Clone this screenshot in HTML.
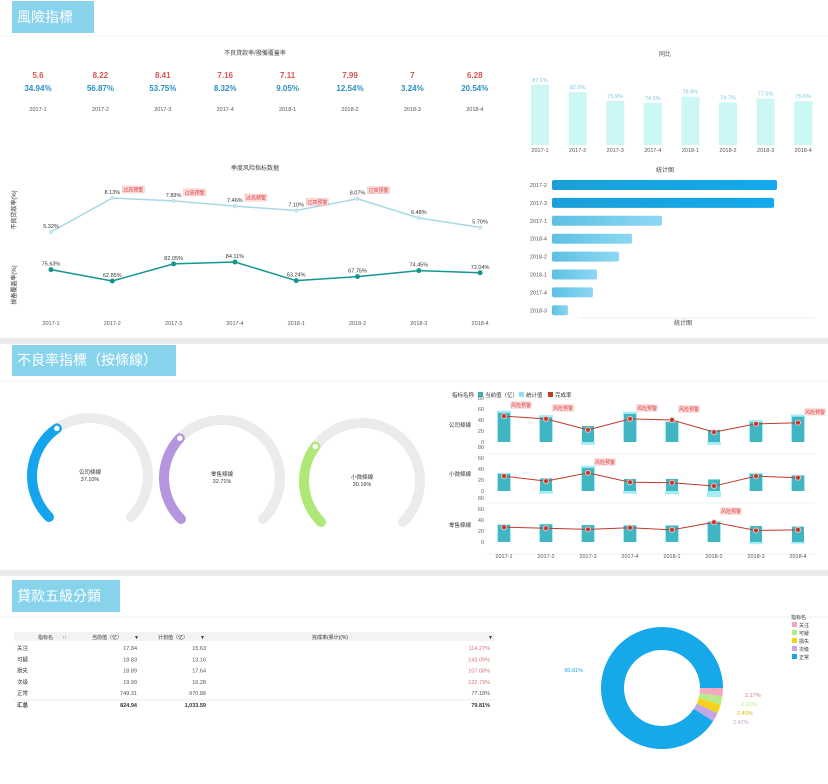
<!DOCTYPE html>
<html><head><meta charset="utf-8">
<style>
html,body{margin:0;padding:0;background:#fff;}
svg{display:block;font-family:"Liberation Sans","Noto Sans CJK TC",sans-serif;}
</style></head>
<body>
<svg id="s" width="828" height="784" viewBox="0 0 828 784" xmlns="http://www.w3.org/2000/svg">
<defs>
<linearGradient id="hb" x1="0" x2="1"><stop offset="0" stop-color="#1b9fd8"/><stop offset="1" stop-color="#13a9ec"/></linearGradient>
<linearGradient id="hb2" x1="0" x2="1"><stop offset="0" stop-color="#5cc0e4"/><stop offset="1" stop-color="#8dd8f2"/></linearGradient>
</defs>
<rect x="0" y="0" width="828" height="784" fill="#fff"/>
<rect x="0" y="338" width="828" height="6" fill="#ebeced"/>
<rect x="0" y="570" width="828" height="6" fill="#ebeced"/>
<line x1="0" y1="36" x2="828" y2="36" stroke="#f2f2f2"/>
<line x1="0" y1="381" x2="828" y2="381" stroke="#f2f2f2"/>
<line x1="0" y1="617" x2="828" y2="617" stroke="#f2f2f2"/>

<g>
<rect x="12" y="1" width="82" height="32" fill="#87d3ec"/>
<text x="17" y="22" font-size="14" fill="#fff">風險指標</text></g>
<g>
<rect x="12" y="345" width="164" height="31" fill="#87d3ec"/>
<text x="17" y="365" font-size="14" fill="#fff">不良率指標（按條線）</text></g>
<g>
<rect x="12" y="580" width="108" height="32" fill="#87d3ec"/>
<text x="17" y="601" font-size="14" fill="#fff">貸款五級分類</text></g>

<text x="255" y="55" font-size="6" fill="#444" text-anchor="middle">不良貸款率/撥備覆蓋率</text>
<g id="kpi"></g>
<text x="255" y="170" font-size="6" fill="#444" text-anchor="middle">季度风险指标数据</text>
<text transform="translate(16,210) rotate(-90)" font-size="6" fill="#333" text-anchor="middle">不良贷款率(%)</text>
<text transform="translate(16,285) rotate(-90)" font-size="6" fill="#333" text-anchor="middle">拨备覆盖率(%)</text>
<g id="lines"></g>
<text x="665" y="56" font-size="6" fill="#444" text-anchor="middle">同比</text>
<g id="vbars"></g>
<text x="665" y="172" font-size="6" fill="#444" text-anchor="middle">统计图</text>
<g id="hbars"></g>
<line x1="578" y1="318" x2="815" y2="318" stroke="#eee"/>
<text x="683" y="325" font-size="6" fill="#444" text-anchor="middle">统计图</text>
<g id="gauges"></g>
<g id="combo"></g>
<g id="table"></g>
<g id="donut"></g>
</svg>
<script>
const NS="http://www.w3.org/2000/svg";
function mk(p,tag,a,txt){const e=document.createElementNS(NS,tag);for(const k in a)e.setAttribute(k,a[k]);if(txt!==undefined)e.textContent=txt;p.appendChild(e);return e;}
const quarters=["2017-1","2017-2","2017-3","2017-4","2018-1","2018-2","2018-3","2018-4"];
const kpiTop=["5.6","8.22","8.41","7.16","7.11","7.99","7","6.28"];
const kpiBottom=["34.94%","56.87%","53.75%","8.32%","9.05%","12.54%","3.24%","20.54%"];
const nplRate=[5.32,8.13,7.89,7.46,7.10,8.07,6.48,5.70];
const coverage=[75.63,62.85,82.05,84.11,63.24,67.75,74.45,72.04];
const nplWarn=[false,true,true,true,true,true,false,false];
const yoy=[87.1,82.0,75.9,74.5,78.8,74.7,77.5,75.6];
const hbarCats=["2017-2","2017-3","2017-1","2018-4","2018-2","2018-1","2017-4","2018-3"];
const hbarVals=[225,222,110,80,67,45,41,16];
const gaugeNames=["公司條線","零售條線","小微條線"];
const gaugeVals=[37.10,32.71,30.16];
const comboLines=["公司條線","小微條線","零售條線"];
const comboCur=[[53,45,29,51,36,22,36,46],[31,23,42,22,22,21,31,28],[31,32,31,30,30,36,29,28]];
const comboStat=[[57,49,-5,55,38,-5,40,50],[33,-5,46,-5,-6,-11,33,29],[32,33,30,31,30,38,-4,-3]];
const comboRate=[[47,42,22,42,40,18,33,35],[27,18,33,16,15,9,27,24],[27,25,23,26,22,36,21,22]];
const comboWarn=[[1,1,0,1,1,0,0,1],[0,0,1,0,0,0,0,0],[0,0,0,0,0,1,0,0]];
const tblNames=["关注","可疑","损失","次级","正常"];
const tblCur=["17.84","18.83","18.89","19.99","749.31"];
const tblPlan=["15.63","13.16","17.64","16.28","970.88"];
const tblRate=[114.27,143.09,107.08,122.73,77.18];
const tblTotal=["汇总","824.94","1,033.59","79.81%"];
const donutNames=["关注","可疑","损失","次级","正常"];
const donutVals=[2.17,2.20,2.40,2.42,90.81];
const donutColors=["#f4a7c0","#b8ec8a","#f7d21a","#c5a6e6","#17a8ea"];

// KPI
(function(){const g=document.getElementById('kpi');
quarters.forEach((q,i)=>{const x=38+i*62.4;
let t=mk(g,'text',{x:x,y:78,'font-size':8,'font-weight':'bold',fill:'#d9534f','text-anchor':'middle'},kpiTop[i]);


t=mk(g,'text',{x:x,y:91,'font-size':8,'font-weight':'bold',fill:'#2a8fc4','text-anchor':'middle'},kpiBottom[i]);


t=mk(g,'text',{x:x,y:111,'font-size':5.5,fill:'#555','text-anchor':'middle'},q);

});})();

// Line chart
(function(){const g=document.getElementById('lines');
const xs=i=>51+i*61.3;
const y1=v=>232-(v-5.32)*12.1;
const y2=v=>262+(84.11-v)*0.894;
let p1=nplRate.map((v,i)=>xs(i)+','+y1(v)).join(' ');
let l=mk(g,'polyline',{points:p1,fill:'none',stroke:'#a8d8e6','stroke-width':1.5});


let p2=coverage.map((v,i)=>xs(i)+','+y2(v)).join(' ');
l=mk(g,'polyline',{points:p2,fill:'none',stroke:'#12968f','stroke-width':1.5});


quarters.forEach((q,i)=>{
let c=mk(g,'circle',{cx:xs(i),cy:y1(nplRate[i]),r:2.2,fill:'#c4e4ee'});


let t=mk(g,'text',{x:xs(i),y:y1(nplRate[i])-4,'font-size':5.5,fill:'#333','text-anchor':'middle'},nplRate[i].toFixed(2)+'%');


if(nplWarn[i]){let r=mk(g,'rect',{x:xs(i)+10,y:y1(nplRate[i])-12,width:22,height:7,fill:'#fbe3e3',stroke:'#f2b5b5','stroke-width':0.5});


let w=mk(g,'text',{x:xs(i)+21,y:y1(nplRate[i])-6.5,'font-size':5,fill:'#d33','text-anchor':'middle'},'过高预警');

}
c=mk(g,'circle',{cx:xs(i),cy:y2(coverage[i]),r:2.5,fill:'#12968f'});


t=mk(g,'text',{x:xs(i),y:y2(coverage[i])-4,'font-size':5.5,fill:'#333','text-anchor':'middle'},coverage[i].toFixed(2)+'%');


t=mk(g,'text',{x:xs(i),y:325,'font-size':5.5,fill:'#555','text-anchor':'middle'},q);

});})();

// Vertical bars
(function(){const g=document.getElementById('vbars');
const xs=i=>540+i*37.6; const y=v=>145-(v-45)*1.43;
quarters.forEach((q,i)=>{
let r=mk(g,'rect',{x:xs(i)-9,y:y(yoy[i]),width:18,height:145-y(yoy[i]),fill:'#ccf7f4'});


let t=mk(g,'text',{x:xs(i),y:y(yoy[i])-3,'font-size':5.5,fill:'#7cc7dc','text-anchor':'middle'},yoy[i].toFixed(1)+'%');


t=mk(g,'text',{x:xs(i),y:152,'font-size':5.5,fill:'#555','text-anchor':'middle'},q);

});})();

// Horizontal bars
(function(){const g=document.getElementById('hbars');
const w=v=>v*1.0; 
hbarCats.forEach((c,i)=>{const y=185+i*17.9;
let r=mk(g,'rect',{x:552,y:y-5,width:w(hbarVals[i]),height:10,rx:2,fill:i<2?'url(#hb)':'url(#hb2)'});


let t=mk(g,'text',{x:547,y:y+2,'font-size':5.5,fill:'#555','text-anchor':'end'},c);

});})();

// Gauges
(function(){const g=document.getElementById('gauges');
const cxs=[90,222,362], cys=[476,478,481], cols=['#14a5ee','#b596de','#aee876'];
const R=58;
function pt(cx,cy,deg){const a=deg*Math.PI/180;return [cx+R*Math.cos(a),cy-R*Math.sin(a)];}
gaugeNames.forEach((n,i)=>{const cx=cxs[i],cy=cys[i];
const s=pt(cx,cy,225), e=pt(cx,cy,-45);
let tr=mk(g,'path',{d:`M${s[0]},${s[1]} A${R},${R} 0 1 1 ${e[0]},${e[1]}`,fill:'none',stroke:'#ebebeb','stroke-width':10,'stroke-linecap':'round'});


const endDeg=225-gaugeVals[i]/100*270; const p=pt(cx,cy,endDeg);
const large=(225-endDeg)>180?1:0;
let ar=mk(g,'path',{d:`M${s[0]},${s[1]} A${R},${R} 0 ${large} 1 ${p[0]},${p[1]}`,fill:'none',stroke:cols[i],'stroke-width':10,'stroke-linecap':'round'});


let k=mk(g,'circle',{cx:p[0],cy:p[1],r:3.5,fill:'#fff',stroke:cols[i],'stroke-width':1.5});


let t=mk(g,'text',{x:cx,y:cy-2,'font-size':5.5,fill:'#333','text-anchor':'middle'},n);


t=mk(g,'text',{x:cx,y:cy+5,'font-size':5.5,fill:'#333','text-anchor':'middle'},gaugeVals[i].toFixed(2)+'%');

});})();

// Combo chart
(function(){const g=document.getElementById('combo');
let t=mk(g,'text',{x:452,y:397,'font-size':5.5,fill:'#333'},'指标名称');


const leg=[['#3ab5b0','当前值（亿）',478],['#8fe0f2','统计值',519],['#c0392b','完成率',548]];
leg.forEach(l=>{let r=mk(g,'rect',{x:l[2],y:392,width:5,height:5,fill:l[0]});


let tt=mk(g,'text',{x:l[2]+7,y:397,'font-size':5.5,fill:'#333'},l[1]);

});
const xs=i=>504+i*42; const zeros=[442,491,542]; const k=0.55;
const ticks=[80,60,40,20,0];
comboLines.forEach((name,p)=>{const z=zeros[p]; const y=v=>z-v*k;
let lb=mk(g,'text',{x:460,y:z-15,'font-size':5.5,fill:'#333','text-anchor':'middle'},name);


ticks.forEach(tv=>{let tk=mk(g,'text',{x:484,y:y(tv)+2,'font-size':5.5,fill:'#666','text-anchor':'end'},tv);

});
mk(g,'line',{x1:486,y1:z+12,x2:815,y2:z+12,stroke:'#e6e6e6','stroke-width':0.6});
quarters.forEach((q,i)=>{const sv=comboStat[p][i], cv=comboCur[p][i];
let r=mk(g,'rect',{x:xs(i)-7,y:Math.min(y(sv),z),width:14,height:Math.abs(sv*k),fill:'#a6ecf7'});


r=mk(g,'rect',{x:xs(i)-6,y:y(cv),width:12,height:cv*k,fill:'#3fb6c2'});

});
const pts=comboRate[p].map((v,i)=>xs(i)+','+y(v)).join(' ');
let pl=mk(g,'polyline',{points:pts,fill:'none',stroke:'#c0392b','stroke-width':1});


comboRate[p].forEach((v,i)=>{let c=mk(g,'circle',{cx:xs(i),cy:y(v),r:2.5,fill:'#c0392b',stroke:'#f2c0c0','stroke-width':1});


if(comboWarn[p][i]){let b=mk(g,'rect',{x:xs(i)+6,y:y(v)-15,width:22,height:8,fill:'#fbe3e3'});


let w=mk(g,'text',{x:xs(i)+17,y:y(v)-9,'font-size':5,fill:'#d33','text-anchor':'middle'},'风险预警');

}});});
quarters.forEach((q,i)=>{let tt=mk(g,'text',{x:xs(i),y:558,'font-size':5.5,fill:'#555','text-anchor':'middle'},q);

});})();

// Table
(function(){const g=document.getElementById('table');
mk(g,'rect',{x:14,y:632,width:481,height:9,fill:'#f2f3f5'});
const hdr=[['指标名',38,'start'],['↑↑',62,'start'],['当前值（亿）',122,'end'],['▼',134,'start'],['计划值（亿）',188,'end'],['▼',200,'start'],['完成率(累计)(%)',330,'middle'],['▼',488,'start']];
hdr.forEach(h=>{let t=mk(g,'text',{x:h[1],y:639,'font-size':5,fill:'#333','text-anchor':h[2]},h[0]);

});
tblNames.forEach((n,i)=>{const y=650+i*11.3;
const cells=[[n,17,'start','#333'],[tblCur[i],137,'end','#555'],[tblPlan[i],206,'end','#555'],[tblRate[i].toFixed(2)+'%',490,'end',tblRate[i]>100?'#d9707a':'#555']];
cells.forEach(c=>{let t=mk(g,'text',{x:c[1],y:y,'font-size':5.5,fill:c[3],'text-anchor':c[2]},c[0]);

});});
mk(g,'line',{x1:14,y1:700,x2:495,y2:700,stroke:'#ddd','stroke-width':0.6});
const tx=[[17,'start'],[137,'end'],[206,'end'],[490,'end']];
tblTotal.forEach((v,i)=>{let t=mk(g,'text',{x:tx[i][0],y:707,'font-size':5.5,'font-weight':'bold',fill:'#333','text-anchor':tx[i][1]},v);

});})();

// Donut
(function(){const g=document.getElementById('donut');
const cx=662,cy=688,R=61,r=38;let a0=0;const tot=donutVals.reduce((a,b)=>a+b,0);
const lbl=[[745,697],[741,706],[737,715],[733,724],[583,672]];
donutVals.forEach((v,i)=>{const a1=a0+v/tot*2*Math.PI;
const P=(rad,a)=>[cx+rad*Math.cos(a),cy+rad*Math.sin(a)];
const p1=P(R,a0),p2=P(R,a1),p3=P(r,a1),p4=P(r,a0);const lg=(a1-a0)>Math.PI?1:0;
let s=mk(g,'path',{d:`M${p1} A${R},${R} 0 ${lg} 1 ${p2} L${p3} A${r},${r} 0 ${lg} 0 ${p4} Z`,fill:donutColors[i]});


let t=mk(g,'text',{x:lbl[i][0],y:lbl[i][1],'font-size':5.5,fill:donutColors[i]==='#f7d21a'?'#e0b800':(i===0?'#c77':donutColors[i]),'text-anchor':i===4?'end':'start'},v.toFixed(2)+'%');


a0=a1;});
let t=mk(g,'text',{x:791,y:619,'font-size':5,fill:'#333'},'指标名');


donutNames.forEach((n,i)=>{const y=626+i*8;
let r2=mk(g,'rect',{x:792,y:y-4,width:5,height:5,fill:donutColors[i]});


let tt=mk(g,'text',{x:799,y:y+1,'font-size':5,fill:'#333'},n);

});})();
</script>
</body></html>
